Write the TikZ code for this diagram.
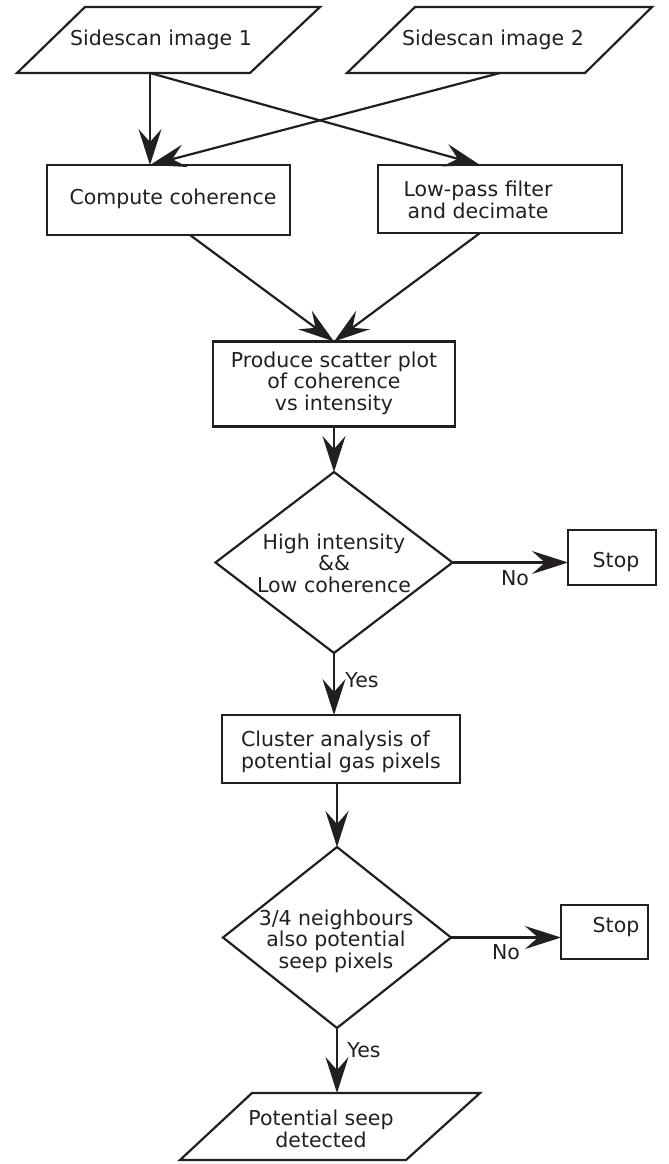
\documentclass[tikz,border=0pt]{standalone}
\usepackage{fontspec}
\setmainfont{DejaVu Sans}
\usetikzlibrary{shapes.geometric,arrows.meta}
\definecolor{ink}{RGB}{35,31,32}
\begin{document}
\begin{tikzpicture}[x=1bp,y=-1bp,
  every node/.style={font=\fontsize{20.5bp}{21.5bp}\selectfont, text=ink, inner sep=0pt, outer sep=0pt},
  box/.style={draw=ink, line width=2.2bp, rectangle},
  dia/.style={draw=ink, line width=2.2bp, diamond},
  outline/.style={draw=ink, line width=2.2bp, line join=miter},
  arr/.style={draw=ink, line width=2.2bp, -{Stealth[length=36bp,width=23bp,inset=13bp]}},
  lbl/.style={align=center}]
\useasboundingbox (0,0) rectangle (669,1164);
% input parallelograms
\draw[outline] (17,73) coordinate (p1bl) -- (85,7) -- (320,7) -- (250,73) -- cycle;
\draw[outline] (347,73) coordinate (p2bl) -- (415,7) -- (652,7) -- (585,73) -- cycle;
\coordinate (p1b) at (150,73);
\coordinate (p2b) at (500,73);
\node[lbl] (p1t) at (161,40) {Sidescan image 1};
\node[lbl] (p2t) at (493,40) {Sidescan image 2};
% boxes
\node[box, minimum width=243bp, minimum height=70bp] (cc) at (168.5,200) {};
\node[lbl] (cct) at (173,199) {Compute coherence};
\node[box, minimum width=244bp, minimum height=68bp] (lp) at (500,199) {};
\node[lbl] (lpt) at (478,200) {Low-pass filter\\and decimate};
\node[box, minimum width=242bp, minimum height=85bp] (sc) at (334,384) {};
\node[lbl] (sct) at (334,383) {Produce scatter plot\\of coherence\\vs intensity};
\node[dia, minimum width=237bp, minimum height=181bp] (d1) at (334,562.5) {};
\node[lbl] (d1t) at (334,563) {High intensity\\\&\&\\Low coherence};
\node[box, minimum width=88bp, minimum height=55bp] (stop1) at (612,557.5) {};
\node[lbl] (s1t) at (616,562) {Stop};
\node[box, minimum width=238bp, minimum height=68bp] (cl) at (341,749) {};
\node[align=left] (clt) at (341,752) {Cluster analysis of\\potential gas pixels};
\node[dia, minimum width=228bp, minimum height=181bp] (d2) at (337,937.5) {};
\node[lbl] (d2t) at (336,941) {3/4 neighbours\\also potential\\seep pixels};
\node[box, minimum width=87bp, minimum height=54bp] (stop2) at (604.5,932) {};
\node[lbl] (s2t) at (616,927) {Stop};
\draw[outline] (180,1160) -- (252,1093) -- (480,1093) -- (406,1160) -- cycle;
\coordinate (p3t) at (337,1093);
\node[lbl] (p3txt) at (321,1129) {Potential seep\\detected};
% connectors
\draw[arr] (p1b) -- (p1b |- cc.north);
\draw[arr] (p1b) -- ([xshift=-20bp]lp.north);
\draw[arr] (p2b) -- (p1b |- cc.north);
\draw[arr] ([xshift=21.5bp]cc.south) -- (sc.north);
\draw[arr] ([xshift=-20bp]lp.south) -- (sc.north);
\draw[arr] (sc.south) -- (d1.north);
\draw[arr] (d1.east) -- (stop1.west |- d1.east);
\node (no1) at (515,578) {No};
\draw[arr] (d1.south) -- (d1.south |- cl.north);
\node (yes1) at (362,680) {Yes};
\draw[arr] (cl.south -| d2.north) -- (d2.north);
\draw[arr] (d2.east) -- (stop2.west |- d2.east);
\node (no2) at (506,952) {No};
\draw[arr] (d2.south) -- (p3t);
\node (yes2) at (364,1050) {Yes};
\end{tikzpicture}
\end{document}
